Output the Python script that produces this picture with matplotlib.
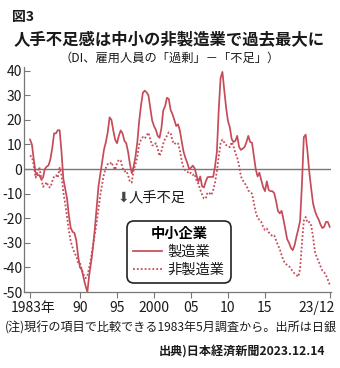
import numpy as np
import pandas as pd
import matplotlib
matplotlib.use("Agg")
import matplotlib.pyplot as plt
from matplotlib.transforms import ScaledTranslation

plt.rcParams['font.family'] = ['Noto Sans CJK JP', 'DejaVu Sans']

# 日銀短観 雇用人員判断DI（中小企業）、1983年5月調査～2023年12月調査（四半期）
quarters = pd.period_range('1983Q2', '2023Q4', freq='Q')

manufacturing = [
    12, 10, 4, -1.5, -2.5, -2.5, -4, -3.5, 0, 1,
    1.5, 4, 8.5, 14.5, 14.5, 15.8, 15.8, 7, -4, -8,
    -12, -19, -24, -25.5, -26, -29, -35.5, -40, -41, -44.5,
    -47.5, -50, -43, -38, -32, -24.5, -15.5, -7, -2, 3,
    8, 11, 15, 21, 20, 15.7, 12, 10.5, 13.5, 15.7,
    14.5, 11.5, 10.5, 7, 2, -1.7, 1, 5, 11, 19.5,
    26, 31, 31.9, 31.2, 30, 25, 19.8, 17.5, 16, 13.5,
    12.7, 16.5, 23.8, 25.5, 29, 28.5, 24, 22.3, 20, 17.5,
    18.2, 15.7, 11.2, 7, 4.5, 2.5, 0, 0.5, 1.4, 0.3,
    -2.6, -5.2, -3, -7, -7.5, -5, -3.3, -3.2, -3.2, -3.2,
    1, 7, 24, 37, 39.5, 32, 25, 19.5, 17, 12.2,
    11, 11.5, 13.5, 9, 7.8, 8.3, 9, 11, 13.5, 11,
    10.7, 5.5, 0, -3, -1.5, -4.5, -7.3, -9, -5, -8.5,
    -9, -9, -9.8, -13, -17, -18, -17, -20.5, -24.5, -28.5,
    -30, -32, -33, -31, -27.6, -24.5, -21, -6, 13, 14,
    7, -1.5, -8, -14, -17, -19, -20.5, -22.5, -24, -23.5,
    -21.5, -21.5, -23.5,
]

non_manufacturing = [
    5.5, 4.9, 1.5, -3.5, -1.5, 0.8, -3.5, -7.2, -6.6, -5.3,
    -7.3, -7.5, -5, -3, -2.5, -3.5, 0.5, -2.5, -9.5, -14,
    -19.5, -25, -29.5, -32, -34, -35.5, -38, -38, -41, -43,
    -44.4, -43.5, -40, -36, -31, -26.5, -22, -16, -10.5, -6,
    -2, 0.5, 2, 1.8, 2.8, 1, -0.3, 2.4, 3.8, 3.5,
    0.5, -1, -0.7, -2.5, -5.3, -5.5, -0.3, 1.8, 5, 10,
    12, 13, 12.4, 13.7, 14.8, 12, 9.7, 9.5, 10.5, 8.2,
    5.3, 7.3, 10.3, 12.3, 13.5, 15, 14.5, 11.5, 10.1, 10.8,
    10.4, 7.6, 3.3, 0.5, -0.7, -1, -2, -1.5, -2.4, -2,
    -4.6, -6, -8.4, -10.4, -12, -12, -9.5, -9.8, -10.6, -8.6,
    -5.5, -1, 5, 10.5, 12, 10.8, 9.7, 9.6, 8.9, 11,
    9.2, 6.5, 4.6, 1.5, -3, -4.5, -5.8, -6.8, -8.7, -9.5,
    -10, -13.8, -17.5, -19.8, -20.7, -21.5, -23.5, -24.8, -24.2, -25.7,
    -26.5, -27.3, -27, -29, -31, -32.5, -35, -37.2, -38.5, -39,
    -39.5, -40.5, -41.6, -42.5, -43.1, -43.8, -40.5, -30, -21, -19.5,
    -21.8, -21.5, -23, -27.6, -33.5, -35.9, -37.5, -39.5, -41.3, -42,
    -43.2, -45, -47,
]

tick_quarters = ['1983Q2', '1990Q1', '1995Q1', '2000Q1', '2005Q1',
                 '2010Q1', '2015Q1', '2023Q4']
tick_labels = ['1983年', '90', '95', '2000', '05', '10', '15', '23/12']
y_ticks = [40, 30, 20, 10, 0, -10, -20, -30, -40, -50]

series_labels = ['製造業', '非製造業']
legend_title = '中小企業'

LINE = '#c64b59'
GRID = '#777777'
TEXT = '#1a1a1a'

W, H = 340, 368
fig = plt.figure(figsize=(W / 100, H / 100), dpi=100)
fig.patch.set_facecolor('white')


def fx(px):
    return px / W


def fy(py):
    return 1 - py / H


ax = fig.add_axes([fx(24.5), fy(292), fx(331) - fx(24.5), fy(67) - fy(292)])

pos = np.arange(len(quarters))
q_index = {str(q): i for i, q in enumerate(quarters)}

ax.axhline(0, color=GRID, lw=1.0, zorder=1)
ax.plot(pos, manufacturing, color=LINE, lw=1.25, solid_joinstyle='round',
        label=series_labels[0], zorder=3)
ax.plot(pos, non_manufacturing, color=LINE, lw=1.3, linestyle=(0, (1, 1.15)),
        label=series_labels[1], zorder=3)

ax.set_xlim(-3, 162.7)
ax.set_ylim(-50, 41.5)

ax.set_yticks(y_ticks)
ax.set_yticklabels([str(v) for v in y_ticks])
ax.set_xticks([q_index[q] for q in tick_quarters])
ax.set_xticklabels(tick_labels)

ax.tick_params(axis='y', direction='in', length=4.5, width=0.8, color=GRID,
               labelsize=10, labelcolor=TEXT, pad=1.5)
ax.tick_params(axis='x', direction='out', length=4, width=0.8, color=GRID,
               labelsize=10, labelcolor=TEXT, pad=2.5)

# 端の目盛りラベルを枠内に収める
xlabels = ax.get_xticklabels()
xlabels[0].set_transform(xlabels[0].get_transform()
                         + ScaledTranslation(0.035, 0, fig.dpi_scale_trans))
xlabels[-1].set_horizontalalignment('right')
xlabels[-1].set_transform(xlabels[-1].get_transform()
                          + ScaledTranslation(0.05, 0, fig.dpi_scale_trans))

for side in ['top', 'right']:
    ax.spines[side].set_visible(False)
for side in ['left', 'bottom']:
    ax.spines[side].set_color(GRID)
    ax.spines[side].set_linewidth(0.9)

# 注記: 人手不足方向を示す矢印
ax.text(q_index['1995Q1'] + 0.5, -11.5, '⬇', fontsize=10, color='#444444',
        family=['DejaVu Sans'], ha='left', va='center')
ax.text(q_index['1995Q1'] + 6, -11.5, '人手不足', fontsize=10.3, color=TEXT,
        ha='left', va='center')

leg = ax.legend(loc='upper left', bbox_to_anchor=(fx(127), fy(221)),
                bbox_transform=fig.transFigure, borderaxespad=0,
                title=legend_title, fontsize=10.3, handlelength=2.0,
                handletextpad=0.4, labelspacing=0.25, borderpad=0.45,
                fancybox=True, framealpha=1, edgecolor='#222222',
                title_fontproperties={'weight': 'bold', 'size': 10.3})
leg.get_frame().set_linewidth(1.2)
leg.get_frame().set_boxstyle('round', pad=0, rounding_size=0.5)
for t in leg.get_texts():
    t.set_color(TEXT)

fig.text(fx(12), fy(17), '図3', fontsize=10, weight='bold', color=TEXT,
         ha='left', va='center')
fig.text(fx(169), fy(40), '人手不足感は中小の非製造業で過去最大に',
         fontsize=11.8, weight='bold', color=TEXT, ha='center', va='center')
fig.text(fx(170), fy(58), '（DI、雇用人員の「過剰」－「不足」）',
         fontsize=8.8, color=TEXT, ha='center', va='center')
fig.text(fx(5), fy(328), '(注)現行の項目で比較できる1983年5月調査から。出所は日銀',
         fontsize=8.7, color=TEXT, ha='left', va='center')
fig.text(fx(325), fy(352), '出典)日本経済新聞2023.12.14', fontsize=8.7,
         weight='bold', color=TEXT, ha='right', va='center')

fig.savefig('out.png', dpi=100, facecolor='white')
